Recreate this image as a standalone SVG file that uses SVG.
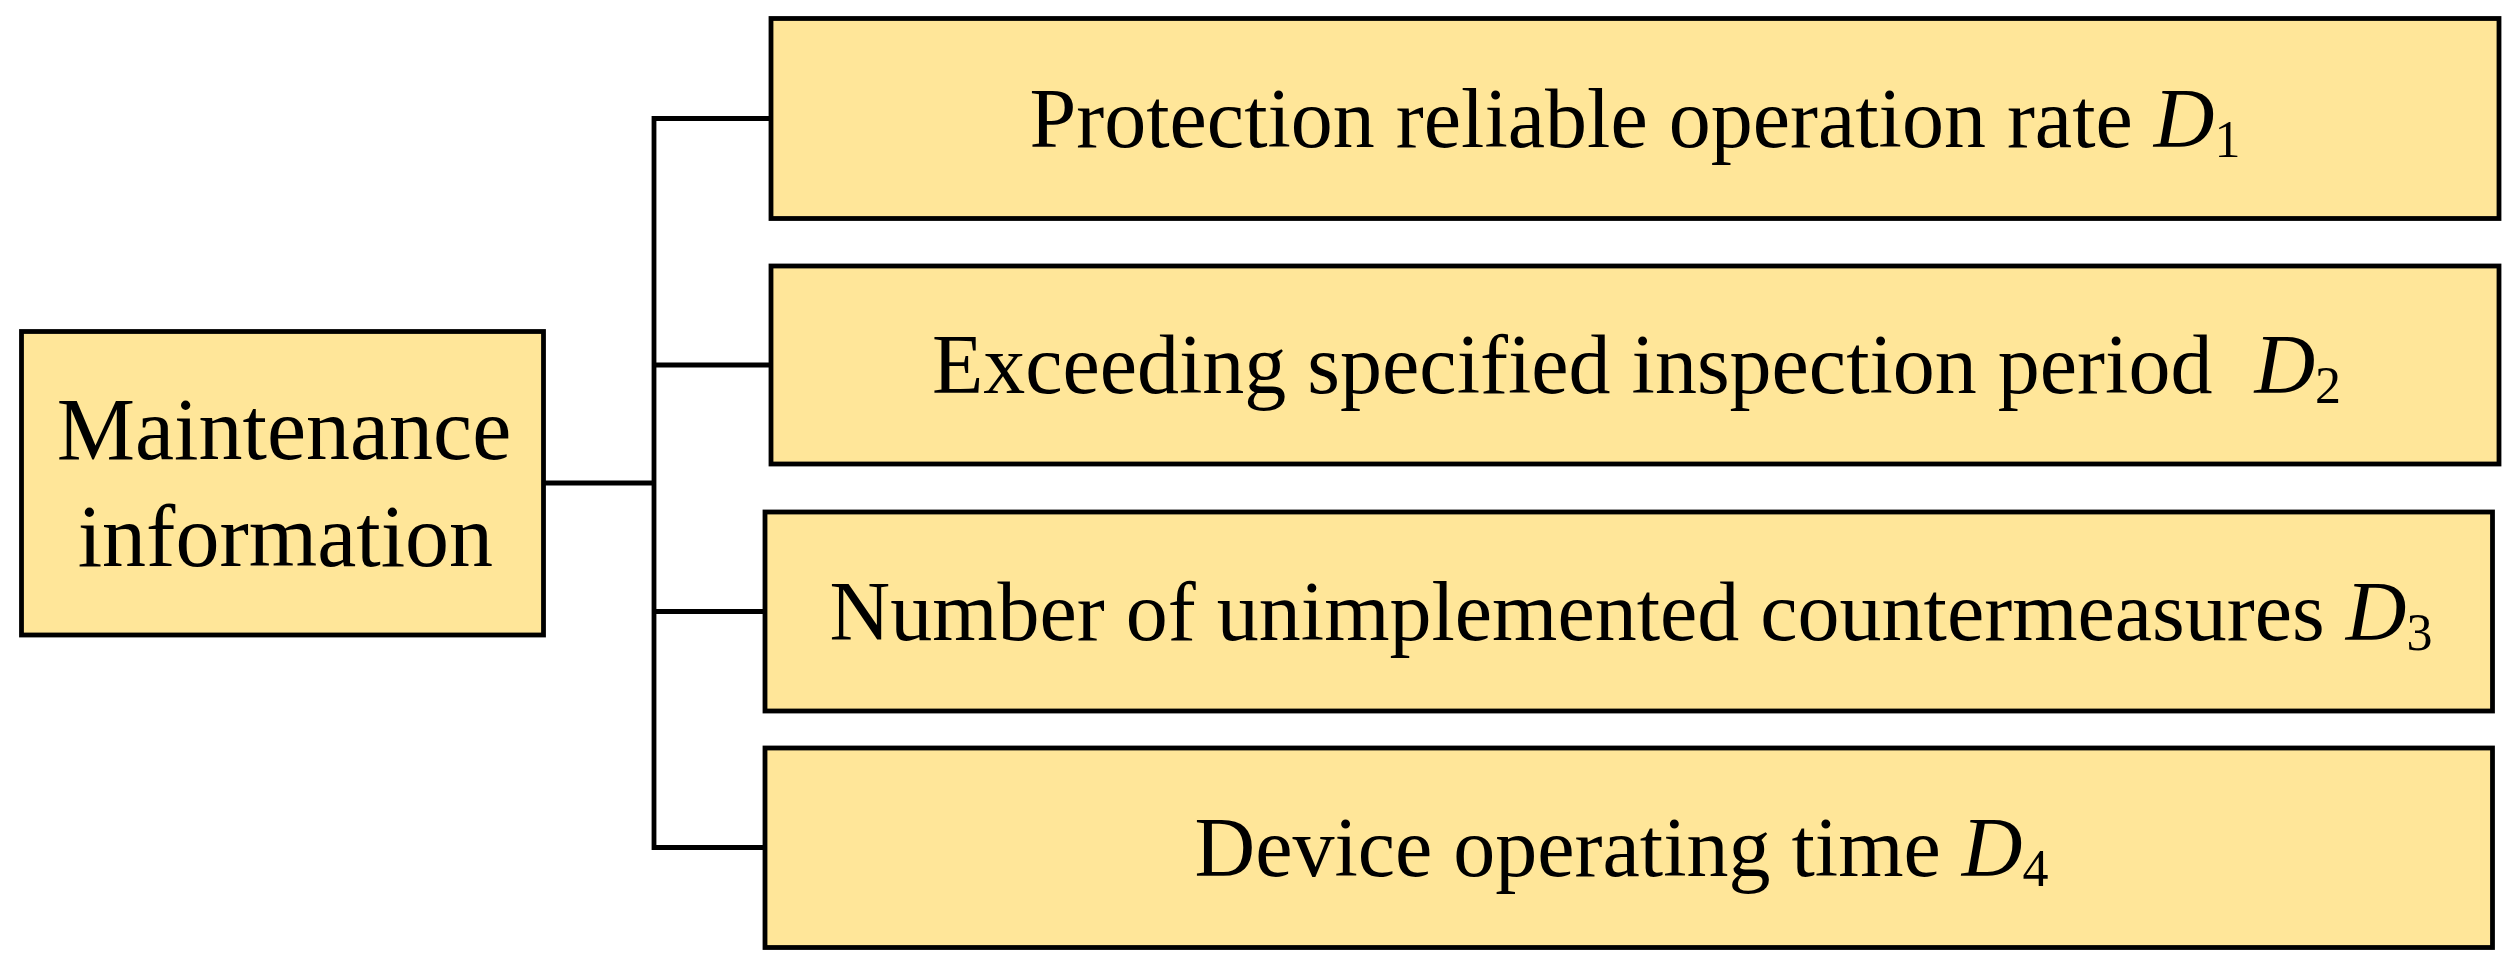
<svg xmlns="http://www.w3.org/2000/svg" width="2517" height="971" viewBox="0 0 2517 971">
<style>
.box{fill:#FFE699;stroke:#000;stroke-width:4.8}
.t{font-family:"Liberation Serif","Times New Roman",serif;font-size:84px;fill:#000;text-anchor:middle;white-space:pre}
.l{font-size:88px}
.i{font-style:italic}
.s{font-size:52px}
.c{stroke:#000;stroke-width:4.8;fill:none;stroke-linecap:square}
</style>
<rect width="2517" height="971" fill="#fff"/>
<g id="connectors">
<path class="c" d="M654 118.5V847.5M543.5 483H654M654 118.5H771M654 365H771M654 611.5H765M654 847.5H765"/>
</g>
<g id="maintenance">
<rect class="box" x="21.5" y="331.5" width="522" height="303.5"/>
<text class="t l" x="284" y="459.3">Maintenance</text>
<text class="t l" x="285.4" y="566">information</text>
</g>
<g id="d1">
<rect class="box" x="771" y="18.5" width="1728" height="200"/>
<text class="t" x="1635" y="146.7">Protection reliable operation rate <tspan class="i">D</tspan><tspan class="s" dy="10.5">1</tspan></text>
</g>
<g id="d2">
<rect class="box" x="771" y="266" width="1728" height="198"/>
<text class="t" x="1636.5" y="392.7">Exceeding specified inspection period  <tspan class="i">D</tspan><tspan class="s" dy="10.5">2</tspan></text>
</g>
<g id="d3">
<rect class="box" x="765" y="512" width="1727.5" height="199"/>
<text class="t" x="1631" y="639.5">Number of unimplemented countermeasures <tspan class="i">D</tspan><tspan class="s" dy="10.5">3</tspan></text>
</g>
<g id="d4">
<rect class="box" x="765" y="748" width="1727.5" height="199.5"/>
<text class="t" x="1621.5" y="875.5">Device operating time <tspan class="i">D</tspan><tspan class="s" dy="10.5">4</tspan></text>
</g>
</svg>
